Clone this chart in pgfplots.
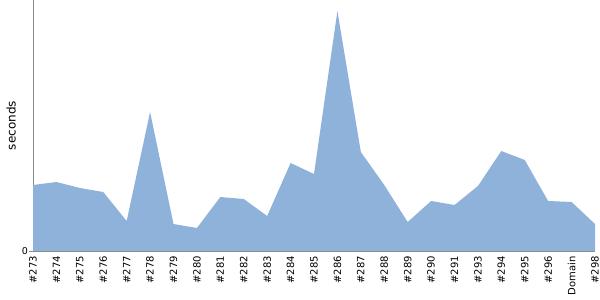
\documentclass[border=0pt]{standalone}
\usepackage{pgfplots}
\pgfplotsset{compat=1.18}
\usepackage{fontspec}
\setmainfont{DejaVu Sans}
\definecolor{areafill}{RGB}{143,178,218}
\definecolor{axisgray}{RGB}{136,136,136}
\begin{document}
\begin{tikzpicture}
\begin{axis}[
  scale only axis,
  width=562bp, height=251bp,
  xmin=0, xmax=24, ymin=0, ymax=251,
  axis x line=bottom, axis y line=left,
  axis line style={draw=axisgray, -},
  xtick={0,...,24},
  xticklabels={\#273,\#274,\#275,\#276,\#277,\#278,\#279,\#280,\#281,\#282,\#283,\#284,\#285,\#286,\#287,\#288,\#289,\#290,\#291,\#293,\#294,\#295,\#296,Domain,\#298},
  xticklabel style={rotate=90, anchor=east, font=\fontsize{10bp}{11bp}\selectfont, inner sep=1bp},
  x tick style={draw=none},
  ytick={0},
  yticklabel style={font=\fontsize{9.5bp}{10bp}\selectfont, inner sep=1bp},
  y tick style={draw=axisgray},
  tick align=outside,
  major tick length=4bp,
  ylabel={seconds},
  ylabel style={at={(axis description cs:-0.0302,0.5)}, anchor=south, font=\fontsize{12bp}{13bp}\selectfont, inner sep=0pt},
  /pgf/number format/assume math mode=true,
  clip=false,
]
\addplot[fill=areafill, draw=none] coordinates {
(0,66) (1,69) (2,63) (3,59) (4,30) (5,139) (6,27) (7,23) (8,54) (9,52) (10,35) (11,88) (12,77) (13,240) (14,99) (15,66) (16,29) (17,50) (18,46) (19,65) (20,100) (21,91) (22,50) (23,49) (24,27)
} \closedcycle;
\end{axis}
\pgfresetboundingbox
\path[use as bounding box] (-33bp,-49bp) rectangle (567bp,251bp);
\end{tikzpicture}
\end{document}
